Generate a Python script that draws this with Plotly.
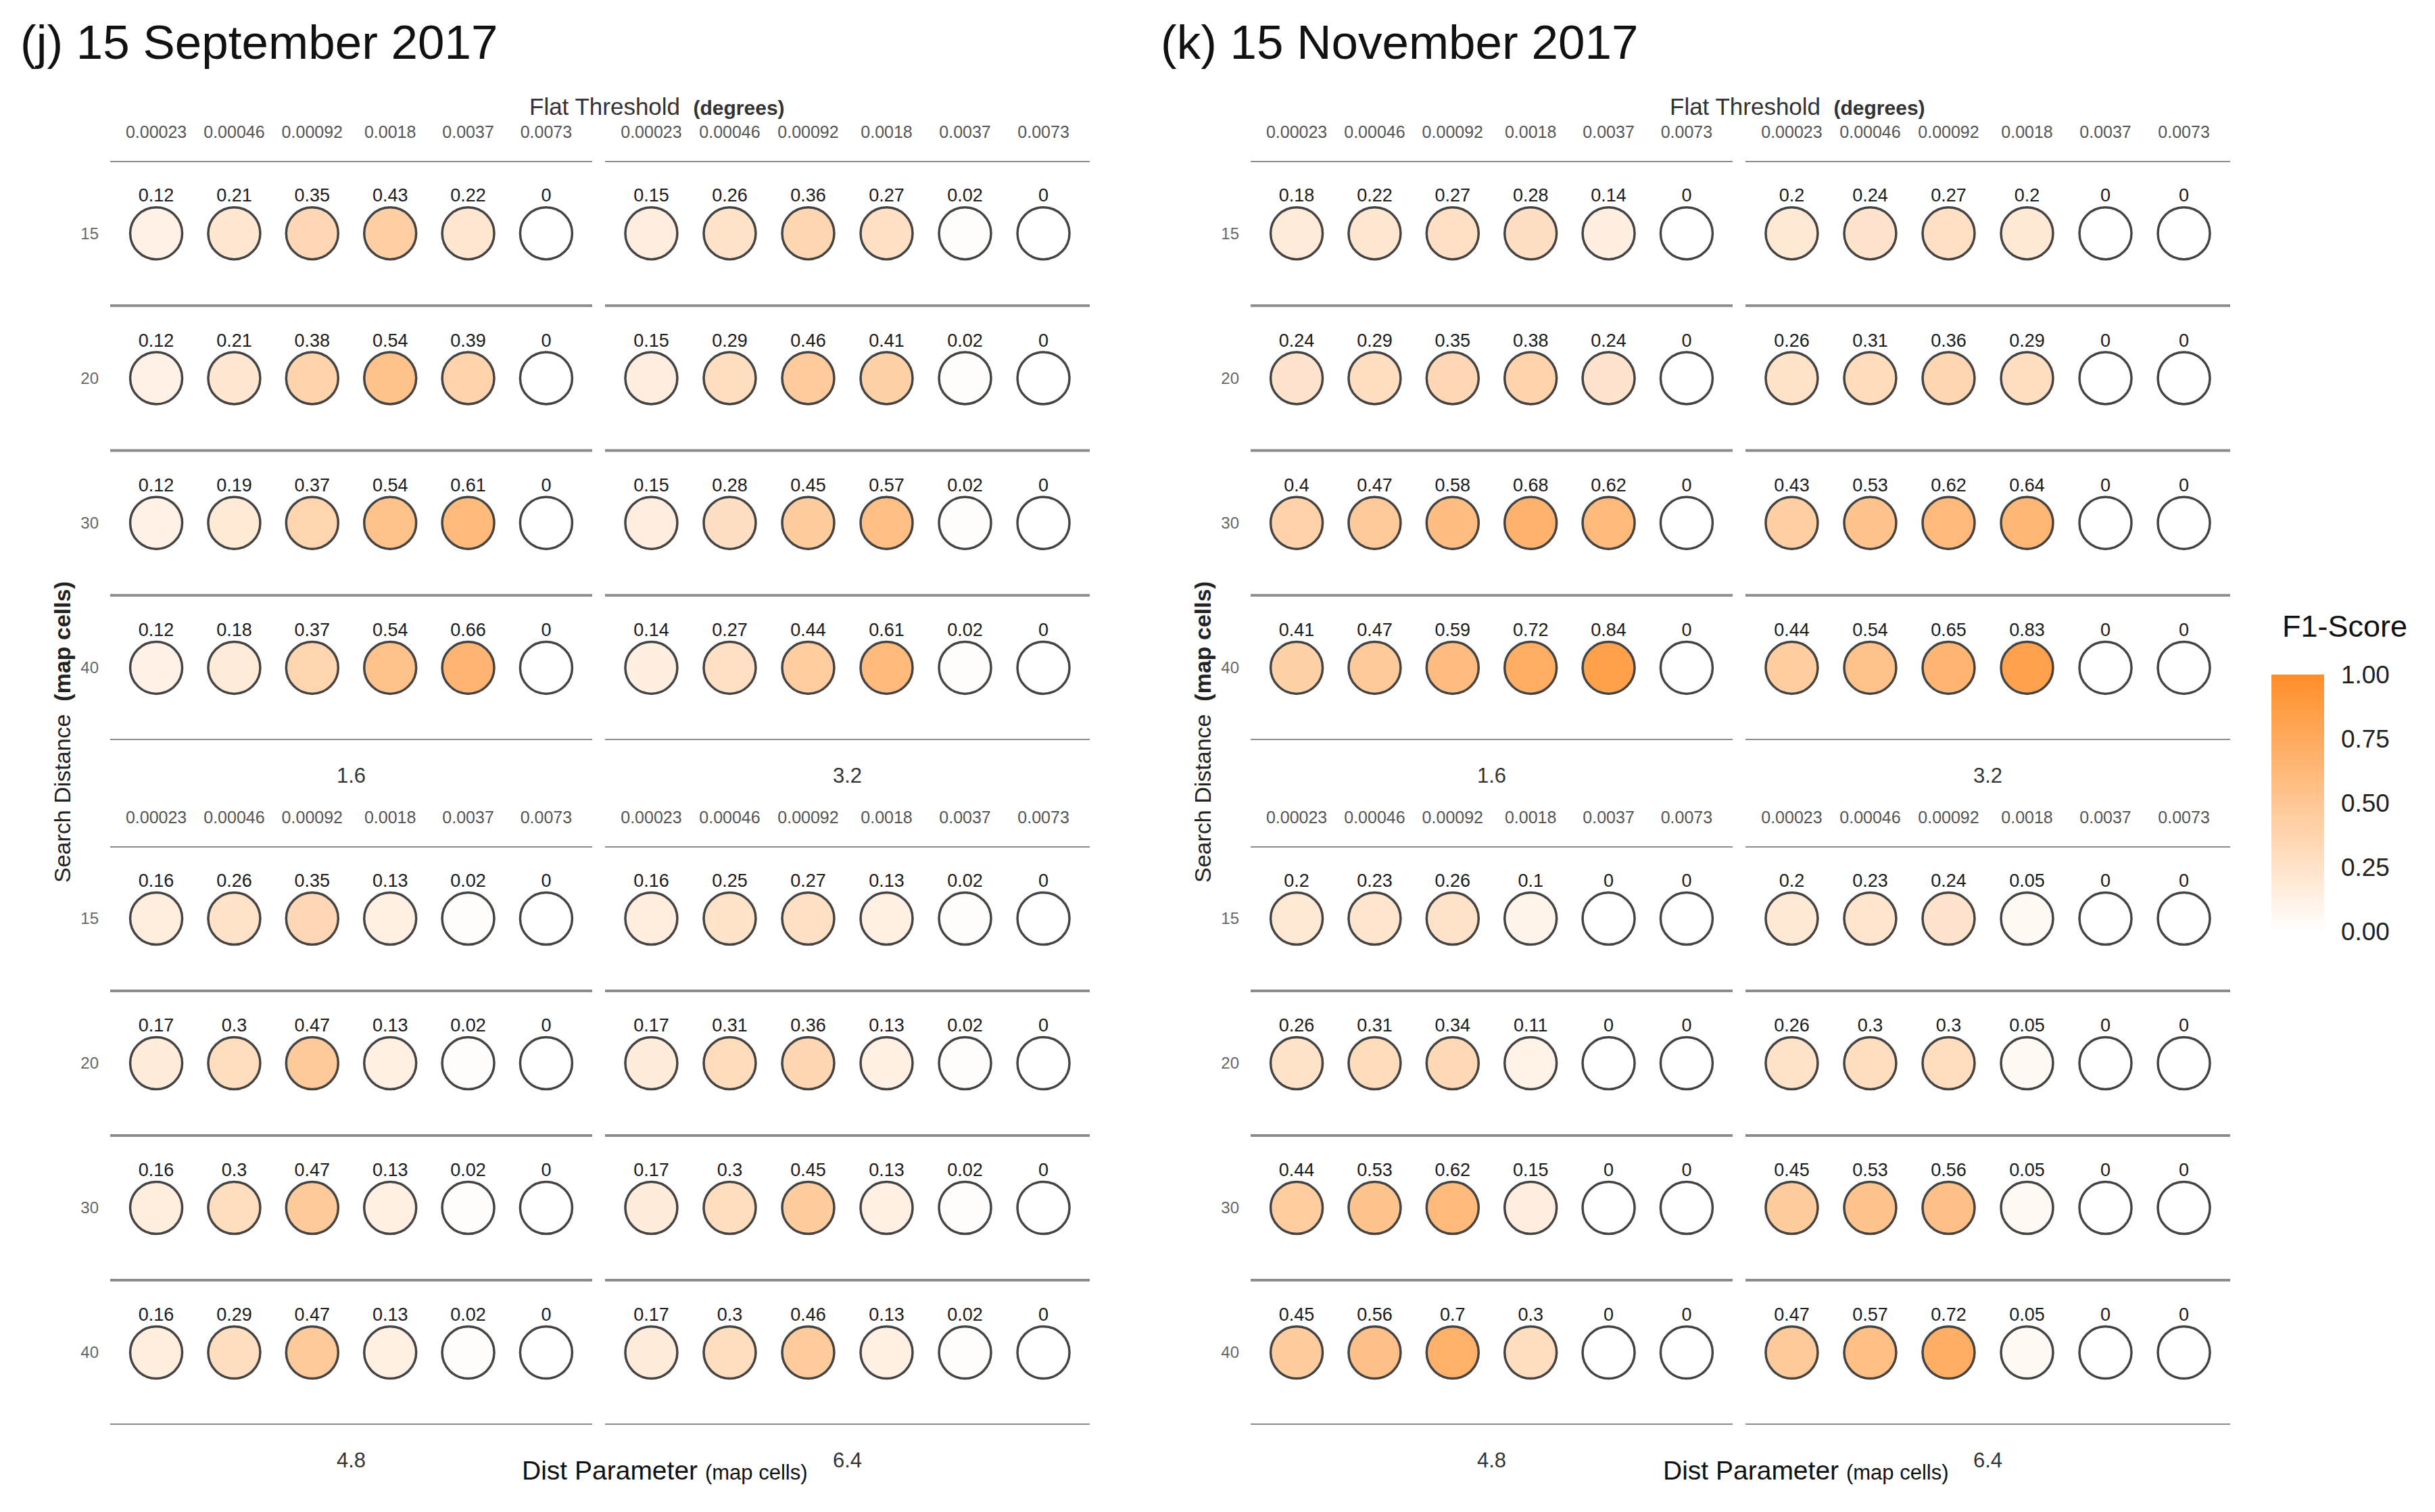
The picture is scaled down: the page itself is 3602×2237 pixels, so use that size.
import plotly.graph_objects as go

W, H = 3602, 2237
PAD = 8  # default body margin of the page

flat_threshold = ['0.00023', '0.00046', '0.00092', '0.0018', '0.0037', '0.0073']
search_distance = ['15', '20', '30', '40']
dist_param = ['1.6', '3.2', '4.8', '6.4']

# F1 scores, 15 September 2017 (rows = search distance, cols = flat threshold)
sep_16 = [[0.12, 0.21, 0.35, 0.43, 0.22, 0],
          [0.12, 0.21, 0.38, 0.54, 0.39, 0],
          [0.12, 0.19, 0.37, 0.54, 0.61, 0],
          [0.12, 0.18, 0.37, 0.54, 0.66, 0]]
sep_32 = [[0.15, 0.26, 0.36, 0.27, 0.02, 0],
          [0.15, 0.29, 0.46, 0.41, 0.02, 0],
          [0.15, 0.28, 0.45, 0.57, 0.02, 0],
          [0.14, 0.27, 0.44, 0.61, 0.02, 0]]
sep_48 = [[0.16, 0.26, 0.35, 0.13, 0.02, 0],
          [0.17, 0.3, 0.47, 0.13, 0.02, 0],
          [0.16, 0.3, 0.47, 0.13, 0.02, 0],
          [0.16, 0.29, 0.47, 0.13, 0.02, 0]]
sep_64 = [[0.16, 0.25, 0.27, 0.13, 0.02, 0],
          [0.17, 0.31, 0.36, 0.13, 0.02, 0],
          [0.17, 0.3, 0.45, 0.13, 0.02, 0],
          [0.17, 0.3, 0.46, 0.13, 0.02, 0]]

# F1 scores, 15 November 2017
nov_16 = [[0.18, 0.22, 0.27, 0.28, 0.14, 0],
          [0.24, 0.29, 0.35, 0.38, 0.24, 0],
          [0.4, 0.47, 0.58, 0.68, 0.62, 0],
          [0.41, 0.47, 0.59, 0.72, 0.84, 0]]
nov_32 = [[0.2, 0.24, 0.27, 0.2, 0, 0],
          [0.26, 0.31, 0.36, 0.29, 0, 0],
          [0.43, 0.53, 0.62, 0.64, 0, 0],
          [0.44, 0.54, 0.65, 0.83, 0, 0]]
nov_48 = [[0.2, 0.23, 0.26, 0.1, 0, 0],
          [0.26, 0.31, 0.34, 0.11, 0, 0],
          [0.44, 0.53, 0.62, 0.15, 0, 0],
          [0.45, 0.56, 0.7, 0.3, 0, 0]]
nov_64 = [[0.2, 0.23, 0.24, 0.05, 0, 0],
          [0.26, 0.3, 0.3, 0.05, 0, 0],
          [0.45, 0.53, 0.56, 0.05, 0, 0],
          [0.47, 0.57, 0.72, 0.05, 0, 0]]

panels = [
    {'title': '(j) 15 September 2017', 'data': [sep_16, sep_32, sep_48, sep_64], 'dx': 0},
    {'title': '(k) 15 November 2017', 'data': [nov_16, nov_32, nov_48, nov_64], 'dx': 1687},
]

colorscale = [[0, '#FFFFFF'], [1, '#FF8E28']]
FONT = 'Liberation Sans, Arial, sans-serif'
FW, FH = W - 2 * PAD, H - 2 * PAD
LABEL_LIFT = 0.25  # value label sits a quarter row above the circle centre


def fx(p):
    return (p - PAD) / FW


def fy(p):
    return 1 - (p - PAD) / FH


# facet pixel boxes for the left panel (x0, x1) and (y0, y1)
facet_x = [(163, 876), (895, 1612)]
facet_y = [(238, 1095), (1252, 2108)]

fig = go.Figure()
layout = {}
shapes = []
annotations = []
n = 0
for p, panel in enumerate(panels):
    for k, vals in enumerate(panel['data']):
        n += 1
        ax = '' if n == 1 else str(n)
        r, c = divmod(k, 2)
        x0, x1 = facet_x[c]
        y0, y1 = facet_y[r]
        xs, ys, zs, txt = [], [], [], []
        for i, row in enumerate(vals):
            for j, v in enumerate(row):
                xs.append(j)
                ys.append(i)
                zs.append(v)
                txt.append(f'{v:g}')
        fig.add_trace(go.Scatter(
            x=xs, y=ys, mode='markers',
            marker=dict(size=77, color=zs, colorscale=colorscale, cmin=0, cmax=1,
                        line=dict(color='#444444', width=3.5),
                        showscale=(n == 1),
                        colorbar=dict(x=fx(3360), xanchor='left', xpad=0, ypad=0,
                                      y=fy(1188), yanchor='middle',
                                      len=380, lenmode='pixels',
                                      thickness=78, thicknessmode='pixels',
                                      outlinewidth=0, tickvals=[0, 0.25, 0.5, 0.75, 1],
                                      tickformat='.2f', ticks='outside', ticklen=18,
                                      tickcolor='rgba(0,0,0,0)',
                                      tickfont=dict(size=37, color='#222', family=FONT))),
            xaxis='x' + ax, yaxis='y' + ax, showlegend=False, hoverinfo='skip'))
        fig.add_trace(go.Scatter(
            x=xs, y=[v - LABEL_LIFT for v in ys], mode='text', text=txt,
            textposition='middle center',
            textfont=dict(size=27, color='#1a1a1a', family=FONT),
            xaxis='x' + ax, yaxis='y' + ax, showlegend=False, hoverinfo='skip'))
        layout['xaxis' + ax] = dict(
            domain=[fx(x0 + panel['dx']), fx(x1 + panel['dx'])],
            range=[-0.59, len(flat_threshold) - 0.41], side='top',
            tickvals=list(range(len(flat_threshold))), ticktext=flat_threshold,
            tickfont=dict(size=25, color='#555', family=FONT),
            ticklabelstandoff=28, showgrid=False, zeroline=False, showline=False,
            anchor='y' + ax)
        layout['yaxis' + ax] = dict(
            domain=[fy(y1), fy(y0)],
            range=[len(search_distance) - 0.5, -0.5],
            tickvals=list(range(len(search_distance))), ticktext=search_distance,
            showticklabels=(c == 0),
            tickfont=dict(size=24, color='#666', family=FONT),
            ticklabelstandoff=16, showgrid=False, zeroline=False, showline=False,
            anchor='x' + ax)
        for b in range(len(search_distance) + 1):
            shapes.append(dict(type='line', xref=f'x{ax} domain', yref='y' + ax,
                               x0=0, x1=1, y0=b - 0.5, y1=b - 0.5,
                               line=dict(color='#8c8c8c', width=4)))
        annotations.append(dict(
            text=dist_param[k], xref=f'x{ax} domain', x=0.5, xanchor='center',
            yref='paper', y=fy(y1 + 52), yanchor='middle', showarrow=False,
            font=dict(size=31, color='#333', family=FONT)))

    dx = panel['dx']
    annotations += [
        dict(text=panel['title'], xref='paper', yref='paper', x=fx(28 + dx), y=fy(62),
             xanchor='left', yanchor='middle', showarrow=False,
             font=dict(size=71, color='#111', family=FONT)),
        dict(text='Flat Threshold  <b><span style="font-size:30px">(degrees)</span></b>',
             xref='paper', yref='paper', x=fx(972 + dx), y=fy(158),
             xanchor='center', yanchor='middle', showarrow=False,
             font=dict(size=35, color='#333', family=FONT)),
        dict(text='Dist Parameter <span style="font-size:31px">(map cells)</span>',
             xref='paper', yref='paper', x=fx(984 + dx), y=fy(2175),
             xanchor='center', yanchor='middle', showarrow=False,
             font=dict(size=39, color='#111', family=FONT)),
        dict(text='Search Distance  <b>(map cells)</b>', textangle=-90,
             xref='paper', yref='paper', x=fx(92 + dx), y=fy(1083),
             xanchor='center', yanchor='middle', showarrow=False,
             font=dict(size=34, color='#222', family=FONT)),
    ]

annotations.append(dict(text='F1-Score', xref='paper', yref='paper', x=fx(3374), y=fy(926),
                        xanchor='left', yanchor='middle', showarrow=False,
                        font=dict(size=45, color='#111', family=FONT)))

fig.update_layout(**layout)
fig.update_layout(width=FW, height=FH, margin=dict(l=0, r=0, t=0, b=0),
                  paper_bgcolor='white', plot_bgcolor='white',
                  shapes=shapes, annotations=annotations)

fig.write_html("out.html")
